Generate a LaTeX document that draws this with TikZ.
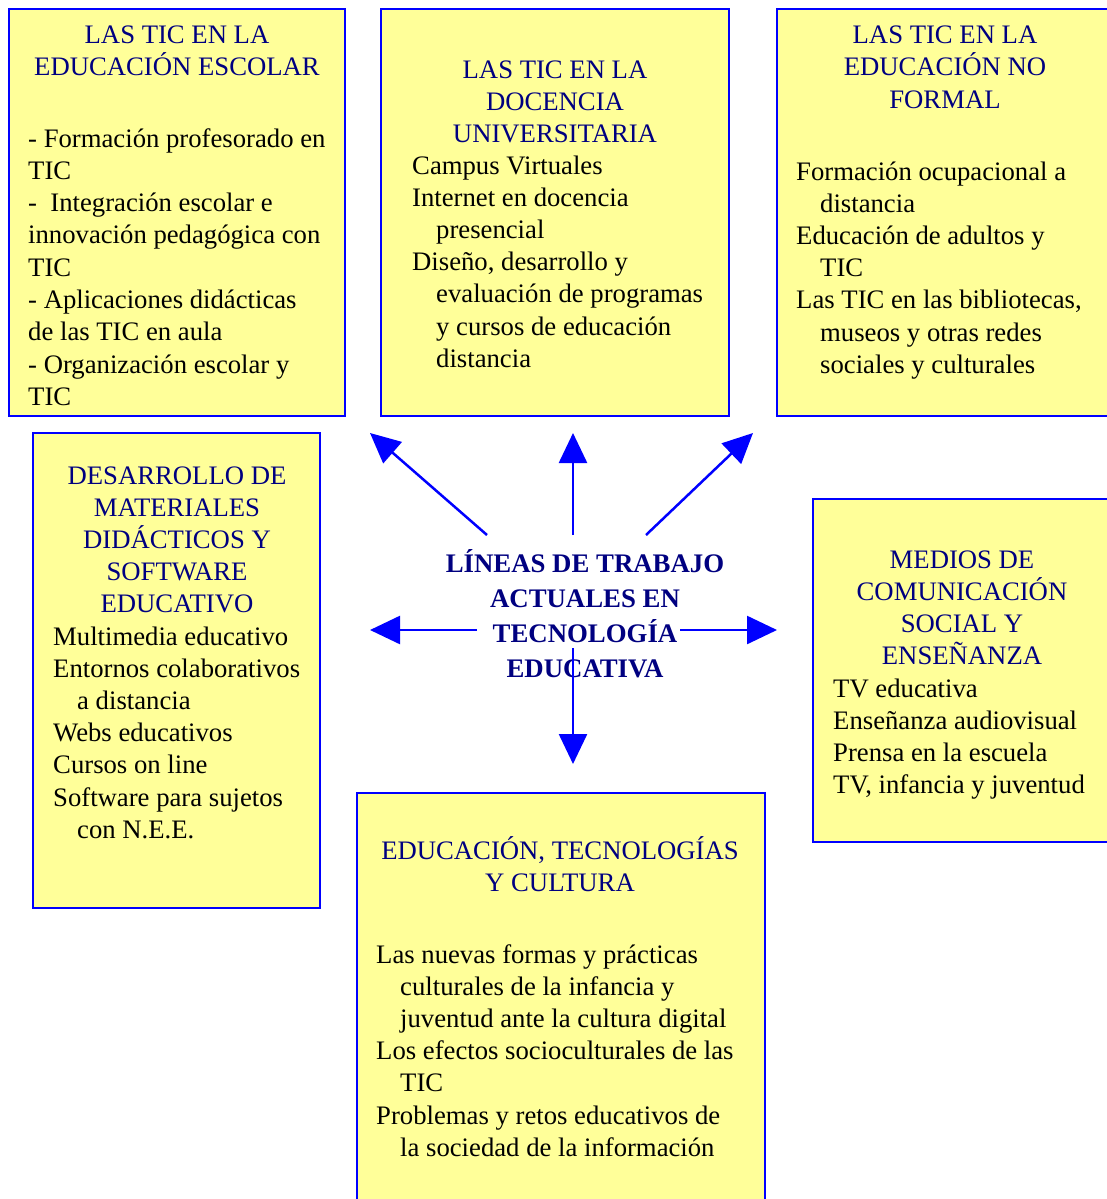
\documentclass[tikz,border=0pt]{standalone}
\usepackage{fontspec}
\setmainfont{Liberation Serif}
\usetikzlibrary{arrows.meta}
\definecolor{boxyellow}{RGB}{255,255,153}
\definecolor{boxblue}{RGB}{0,0,255}
\definecolor{navyt}{RGB}{0,0,128}
\newcommand{\ind}{\hspace*{24pt}}
\begin{document}
\begin{tikzpicture}[x=1pt,y=-1pt,
 box/.style={draw=boxblue, fill=boxyellow, line width=2pt, anchor=north west, inner sep=0pt, outer sep=0pt},
 ttl/.style={text=navyt, anchor=base, inner sep=0pt, font=\fontsize{26.7}{32}\selectfont},
 body/.style={text=black, anchor=base west, inner sep=0pt, font=\fontsize{26.7}{32}\selectfont},
 ctr/.style={text=navyt, anchor=base, inner sep=0pt, font=\fontsize{26.8}{35}\selectfont\bfseries},
 arr/.style={draw=boxblue, line width=2.5pt, -{Triangle[length=30pt,width=28pt]}}]
\useasboundingbox (0,0) rectangle (1107,1199);
\clip (0,0) rectangle (1107,1199);
% boxes
\node[box, minimum width=336pt, minimum height=407pt] (b1) at (9,9) {};
\node[box, minimum width=348pt, minimum height=407pt] (b2) at (381,9) {};
\node[box, minimum width=340pt, minimum height=407pt] (b3) at (777,9) {};
\node[box, minimum width=287pt, minimum height=475pt] (b4) at (33,433) {};
\node[box, minimum width=300pt, minimum height=343pt] (b5) at (813,499) {};
\node[box, minimum width=408pt, minimum height=460pt] (b6) at (357,793) {};
% box 1
\node[ttl] (b1h1) at (177,44) {LAS TIC EN LA};
\node[ttl] (b1h2) at (177,76) {EDUCACIÓN ESCOLAR};
\foreach \t [count=\i from 0] in {{- Formación profesorado en},{TIC},{-\ \ Integración escolar e},{innovación pedagógica con},{TIC},{- Aplicaciones didácticas},{de las TIC en aula},{- Organización escolar y},{TIC}}
  \node[body] (b1t\i) at (28,{147+32.3*\i}) {\t};
% box 2
\node[ttl] (b2h1) at (555,78) {LAS TIC EN LA};
\node[ttl] (b2h2) at (555,110) {DOCENCIA};
\node[ttl] (b2h3) at (555,142) {UNIVERSITARIA};
\foreach \t [count=\i from 0] in {{Campus Virtuales},{Internet en docencia},{\ind presencial},{Diseño, desarrollo y},{\ind evaluación de programas},{\ind y cursos de educación},{\ind distancia}}
  \node[body] (b2t\i) at (412,{174+32.2*\i}) {\t};
% box 3
\node[ttl] (b3h1) at (945,44) {LAS TIC EN LA};
\node[ttl] (b3h2) at (945,76) {EDUCACIÓN NO};
\node[ttl] (b3h3) at (945,108) {FORMAL};
\foreach \t [count=\i from 0] in {{Formación ocupacional a},{\ind distancia},{Educación de adultos y},{\ind TIC},{Las TIC en las bibliotecas,},{\ind museos y otras redes},{\ind sociales y culturales}}
  \node[body] (b3t\i) at (796,{180+32.2*\i}) {\t};
% box 4
\node[ttl] (b4h1) at (177,484) {DESARROLLO DE};
\node[ttl] (b4h2) at (177,516) {MATERIALES};
\node[ttl] (b4h3) at (177,548) {DIDÁCTICOS Y};
\node[ttl] (b4h4) at (177,580) {SOFTWARE};
\node[ttl] (b4h5) at (177,612) {EDUCATIVO};
\foreach \t [count=\i from 0] in {{Multimedia educativo},{Entornos colaborativos},{\ind a distancia},{Webs educativos},{Cursos on line},{Software para sujetos},{\ind con N.E.E.}}
  \node[body] (b4t\i) at (53,{645+32.2*\i}) {\t};
% box 5
\node[ttl] (b5h1) at (962,568) {MEDIOS DE};
\node[ttl] (b5h2) at (962,600) {COMUNICACIÓN};
\node[ttl] (b5h3) at (962,632) {SOCIAL Y};
\node[ttl] (b5h4) at (962,664) {ENSEÑANZA};
\foreach \t [count=\i from 0] in {{TV educativa},{Enseñanza audiovisual},{Prensa en la escuela},{TV, infancia y juventud}}
  \node[body] (b5t\i) at (833,{697+32.2*\i}) {\t};
% box 6
\node[ttl] (b6h1) at (560,859) {EDUCACIÓN, TECNOLOGÍAS};
\node[ttl] (b6h2) at (560,891) {Y CULTURA};
\foreach \t [count=\i from 0] in {{Las nuevas formas y prácticas},{\ind culturales de la infancia y},{\ind juventud ante la cultura digital},{Los efectos socioculturales de las},{\ind TIC},{Problemas y retos educativos de},{\ind la sociedad de la información}}
  \node[body] (b6t\i) at (376,{963+32.2*\i}) {\t};
% centre
\node[ctr] (c1) at (585,572) {LÍNEAS DE TRABAJO};
\node[ctr] (c2) at (585,607) {ACTUALES EN};
\node[ctr] (c3) at (585,642) {TECNOLOGÍA};
\node[ctr] (c4) at (585,677) {EDUCATIVA};
% arrows
\coordinate (sul) at (487,535); \coordinate (tul) at (370,433);
\coordinate (su) at (573,535);  \coordinate (tu) at (573,433);
\coordinate (sur) at (646,535); \coordinate (tur) at (753,433);
\coordinate (sl) at (477,630);  \coordinate (tl) at (370,630);
\coordinate (sr) at (680,630);  \coordinate (tr) at (777,630);
\coordinate (sd) at (573,648);  \coordinate (td) at (573,764);
\draw[arr] (sul) -- (tul);
\draw[arr] (su) -- (tu);
\draw[arr] (sur) -- (tur);
\draw[arr] (sl) -- (tl);
\draw[arr] (sr) -- (tr);
\draw[arr] (sd) -- (td);
\end{tikzpicture}
\end{document}
